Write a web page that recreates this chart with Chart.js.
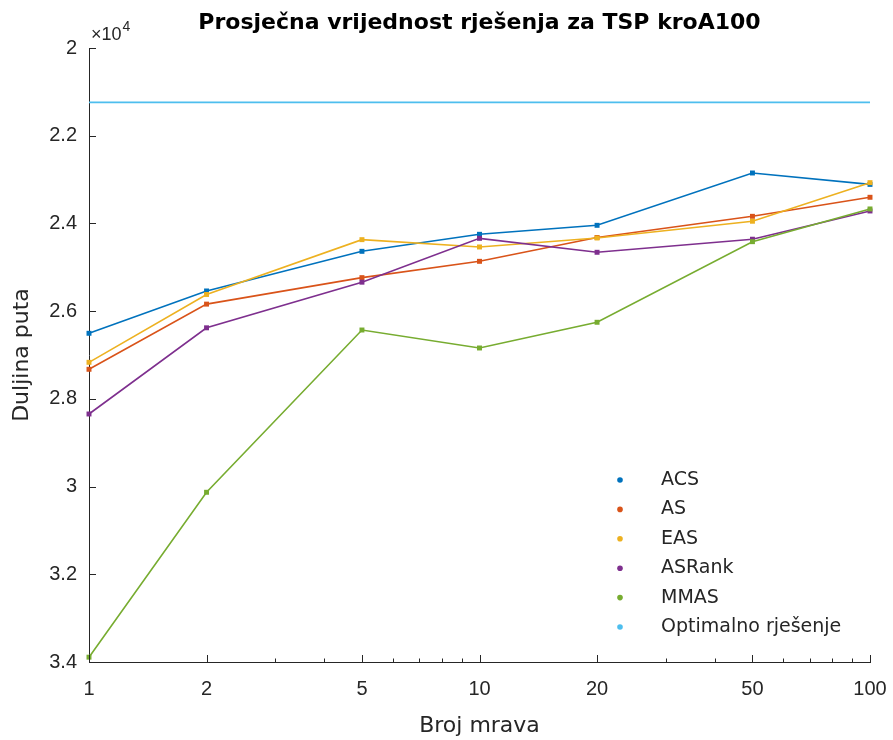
<!DOCTYPE html>
<html>
<head>
<meta charset="utf-8">
<script src="https://cdn.jsdelivr.net/npm/chart.js@4.4.1/dist/chart.umd.min.js"></script>
<style>
  html, body { margin: 0; padding: 0; background: #ffffff; }
  #wrap { width: 893px; height: 740px; }
</style>
</head>
<body>
<div id="wrap"><canvas id="c" width="893" height="740"></canvas></div>
<script>
// ---- data ----
const antCounts = [1, 2, 5, 10, 20, 50, 100];
const acs    = [26505, 25540, 24636, 24248, 24043, 22850, 23110];
const asVals = [27326, 25840, 25236, 24864, 24320, 23838, 23404];
const eas    = [27167, 25620, 24370, 24537, 24332, 23950, 23070];
const asrank = [28345, 26380, 25340, 24340, 24658, 24360, 23716];
const mmas   = [33890, 30130, 26430, 26840, 26254, 24416, 23670];
const optimal = 21240;
const seriesNames = ['ACS', 'AS', 'EAS', 'ASRank', 'MMAS', 'Optimalno rješenje'];
const xTickValues = [1, 2, 5, 10, 20, 50, 100];
const xMinorTicks = [3, 4, 6, 7, 8, 9, 30, 40, 60, 70, 80, 90];
const yTickValues = [20000, 22000, 24000, 26000, 28000, 30000, 32000, 34000];
const yTickLabels = ['2', '2.2', '2.4', '2.6', '2.8', '3', '3.2', '3.4'];
const colors = ['#0072BD', '#D95319', '#EDB120', '#7E2F8E', '#77AC30', '#4DBEEE'];

const FONT = '"DejaVu Sans", Verdana, sans-serif';
const TFONT = '"Liberation Sans", Arial, Helvetica, sans-serif';
const TXT = '#262626';

function pts(vals) { return antCounts.map((x, i) => ({ x: x, y: vals[i] })); }

const allSeries = [acs, asVals, eas, asrank, mmas];
const datasets = allSeries.map((vals, i) => ({
  label: seriesNames[i],
  data: pts(vals),
  borderColor: colors[i],
  backgroundColor: colors[i],
  borderWidth: 1.6,
  pointStyle: 'rect',
  pointRadius: 3.5,
  pointBorderWidth: 0,
  pointHoverRadius: 3.5,
  tension: 0,
  order: 6 - i
}));
datasets.push({
  label: seriesNames[5],
  data: [{ x: antCounts[0], y: optimal }, { x: antCounts[antCounts.length - 1], y: optimal }],
  borderColor: colors[5],
  backgroundColor: colors[5],
  borderWidth: 1.6,
  pointRadius: 0,
  pointHoverRadius: 0,
  order: 0
});

const decorPlugin = {
  id: 'decor',
  afterDraw(chart) {
    const { ctx, chartArea: a, scales: { x, y } } = chart;
    ctx.save();
    // inward ticks
    ctx.strokeStyle = TXT;
    ctx.lineWidth = 1;
    ctx.beginPath();
    yTickValues.forEach(v => {
      const py = Math.round(y.getPixelForValue(v)) + 0.5;
      ctx.moveTo(a.left, py); ctx.lineTo(a.left + 7, py);
    });
    xTickValues.forEach(v => {
      const px = Math.round(x.getPixelForValue(v)) + 0.5;
      ctx.moveTo(px, a.bottom); ctx.lineTo(px, a.bottom - 7);
    });
    xMinorTicks.forEach(v => {
      const px = Math.round(x.getPixelForValue(v)) + 0.5;
      ctx.moveTo(px, a.bottom); ctx.lineTo(px, a.bottom - 3.5);
    });
    ctx.stroke();

    // title
    ctx.fillStyle = '#000000';
    ctx.font = 'bold 22px ' + FONT;
    ctx.textAlign = 'center';
    ctx.textBaseline = 'middle';
    ctx.fillText('Prosječna vrijednost rješenja za TSP kroA100', (a.left + a.right) / 2, 23);

    // exponent label
    ctx.fillStyle = TXT;
    ctx.textAlign = 'left';
    ctx.textBaseline = 'alphabetic';
    ctx.font = '18px ' + TFONT;
    ctx.fillText('×10', a.left + 2, 40);
    const w = ctx.measureText('×10').width;
    ctx.font = '14px ' + TFONT;
    ctx.fillText('4', a.left + 3 + w, 31);

    // legend
    const lx = 620, ly0 = 480, dy = 29.4;
    chart.data.datasets.forEach((ds, i) => {
      const yy = ly0 + i * dy;
      ctx.fillStyle = ds.borderColor;
      ctx.beginPath();
      ctx.arc(lx, yy, 2.8, 0, Math.PI * 2);
      ctx.fill();
      ctx.fillStyle = TXT;
      ctx.font = '19px ' + FONT;
      ctx.textBaseline = 'middle';
      ctx.fillText(ds.label, 661, yy);
    });
    ctx.restore();
  }
};

new Chart(document.getElementById('c'), {
  type: 'line',
  data: { datasets: datasets },
  plugins: [decorPlugin],
  options: {
    responsive: false,
    animation: false,
    devicePixelRatio: 1,
    layout: { padding: { top: 48, right: 23, left: 0, bottom: 0 } },
    plugins: {
      legend: { display: false },
      title: { display: false },
      tooltip: { enabled: false }
    },
    elements: { line: { fill: false }, point: { hitRadius: 0 } },
    datasets: { line: { clip: false } },
    scales: {
      x: {
        type: 'logarithmic',
        min: 1,
        max: 100,
        afterBuildTicks(scale) { scale.ticks = xTickValues.map(v => ({ value: v, major: true })); },
        afterFit(scale) { scale.height = 78; scale.paddingLeft = 0; scale.paddingRight = 0; },
        ticks: {
          autoSkip: false,
          maxRotation: 0,
          padding: 15,
          color: TXT,
          font: { family: TFONT, size: 20 },
          callback: (v) => String(v)
        },
        grid: { display: false, drawTicks: false },
        border: { display: true, color: TXT, width: 1 },
        title: {
          display: true,
          text: 'Broj mrava',
          color: TXT,
          font: { family: FONT, size: 22 },
          padding: { top: 0, bottom: 1 }
        }
      },
      y: {
        type: 'linear',
        reverse: true,
        min: 20000,
        max: 34000,
        afterBuildTicks(scale) { scale.ticks = yTickValues.map(v => ({ value: v })); },
        afterFit(scale) { scale.width = 89; scale.paddingTop = 0; scale.paddingBottom = 0; },
        ticks: {
          padding: 12,
          color: TXT,
          font: { family: TFONT, size: 20 },
          callback: (v) => yTickLabels[yTickValues.indexOf(v)]
        },
        grid: { display: false, drawTicks: false },
        border: { display: true, color: TXT, width: 1 },
        title: {
          display: true,
          text: 'Duljina puta',
          color: TXT,
          font: { family: FONT, size: 22 },
          padding: { top: 9, bottom: 0 }
        }
      }
    }
  }
});
</script>
</body>
</html>
